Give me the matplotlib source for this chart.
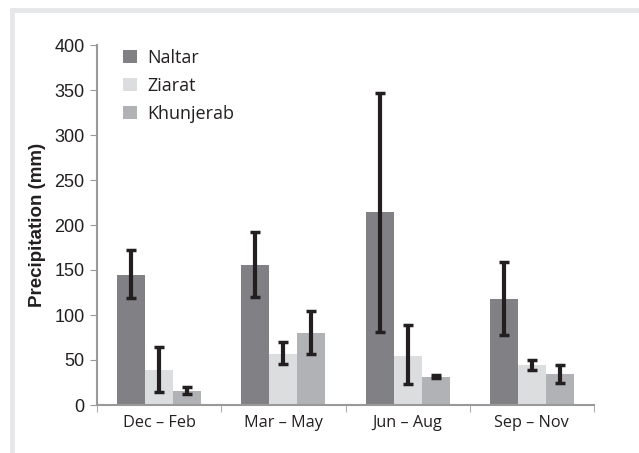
import matplotlib.pyplot as plt
import matplotlib.patches as mpatches
import numpy as np

seasons = ["Dec \u2013 Feb", "Mar \u2013 May", "Jun \u2013 Aug", "Sep \u2013 Nov"]
stations = ["Naltar", "Ziarat", "Khunjerab"]

# mean seasonal precipitation (mm) and the error bar ends
naltar = [145, 156, 214, 118]
naltar_lo = [119, 120, 81, 78]
naltar_hi = [172, 192, 347, 159]

ziarat = [39, 57, 55, 44]
ziarat_lo = [14, 46, 23, 39]
ziarat_hi = [65, 70, 89, 50]

khunjerab = [16, 80, 31, 34]
khunjerab_lo = [12, 57, 30, 24]
khunjerab_hi = [20, 104, 33, 44]

colors = ["#808085", "#dcdddf", "#b1b2b5"]
tick_font = ["Liberation Sans Narrow", "Liberation Sans", "DejaVu Sans"]
text_font = ["Open Sans", "DejaVu Sans"]

fig = plt.figure(figsize=(6.39, 4.53), dpi=100)
fig.patches.append(mpatches.Rectangle((12 / 639, -0.1), 1.2, 1 - 10 / 453 + 0.1,
                                      transform=fig.transFigure, fill=False,
                                      edgecolor="#e6e7e8", linewidth=3.5))
ax = fig.add_axes([97 / 639, 1 - 405 / 453, 497 / 639, 360 / 453])

x = np.arange(len(seasons))
w = 0.225
series = [(naltar, naltar_lo, naltar_hi), (ziarat, ziarat_lo, ziarat_hi),
          (khunjerab, khunjerab_lo, khunjerab_hi)]
for i, (vals, lo, hi) in enumerate(series):
    pos = x + (i - 1) * w
    vals = np.array(vals)
    yerr = [vals - np.array(lo), np.array(hi) - vals]
    ax.bar(pos, vals, width=w, color=colors[i], label=stations[i], zorder=2)
    ax.errorbar(pos, vals, yerr=yerr, fmt="none", ecolor="#231f20",
                elinewidth=3, capsize=3.5, capthick=2.5, zorder=3)

ax.set_xlim(-0.5, 3.5)
ax.set_ylim(0, 400)
ax.set_yticks(range(0, 401, 50))
ax.set_xticks(x)
ax.set_xticklabels(seasons, fontsize=11.7, family=text_font, color="#231f20")
ax.set_xticks(np.arange(-0.5, 4, 1), minor=True)
ax.tick_params(axis="x", which="major", length=0, pad=7)
ax.tick_params(axis="x", which="minor", length=5, color="#999999", direction="out")
ax.tick_params(axis="y", length=5, color="#999999", direction="out", pad=4)
for lab in ax.get_yticklabels():
    lab.set_family(tick_font)
    lab.set_fontsize(13)
    lab.set_color("#231f20")

for s in ["top", "right"]:
    ax.spines[s].set_visible(False)
for s in ["left", "bottom"]:
    ax.spines[s].set_color("#999999")
    ax.spines[s].set_linewidth(1.5)

ax.set_ylabel("Precipitation (mm)", fontsize=13.5, fontweight="bold",
              family=["Liberation Sans", "DejaVu Sans"], color="#231f20", labelpad=6)

leg = ax.legend(loc="upper left", bbox_to_anchor=(0.02, 1.035), frameon=False,
                handlelength=0.75, handleheight=0.75, handletextpad=0.6,
                labelspacing=0.55, prop={"family": text_font, "size": 13})
for t in leg.get_texts():
    t.set_color("#231f20")

fig.savefig("out.png", dpi=100)
